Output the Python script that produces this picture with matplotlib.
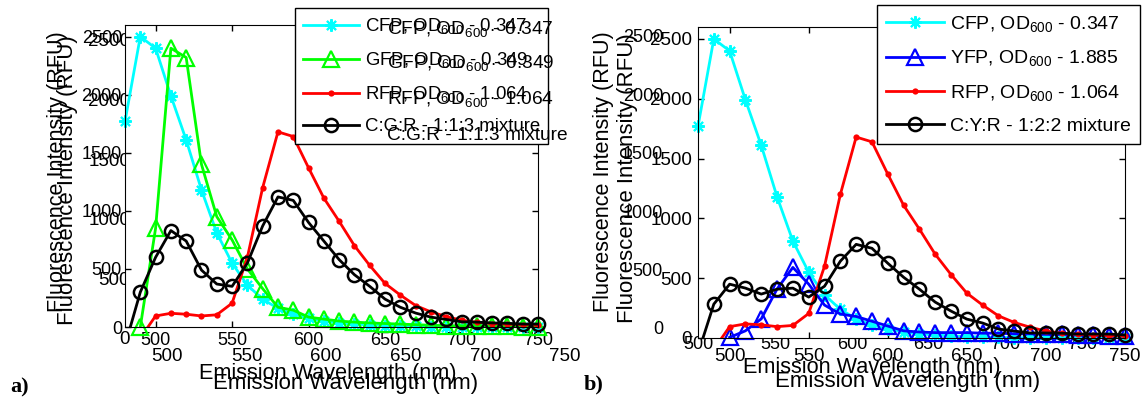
import numpy as np
import matplotlib
matplotlib.use('Agg')
import matplotlib.pyplot as plt
from matplotlib.lines import Line2D

plt.rcParams['font.family'] = ['Liberation Sans', 'DejaVu Sans']
plt.rcParams['mathtext.fontset'] = 'custom'
plt.rcParams['mathtext.rm'] = 'Liberation Sans'
plt.rcParams['mathtext.it'] = 'Liberation Sans:italic'
plt.rcParams['mathtext.bf'] = 'Liberation Sans:bold'

# emission spectra, 480..750 nm every 10 nm
wavelength = np.arange(480, 751, 10)
nan = np.nan
cfp = [1770, 2500, 2400, 1990, 1610, 1180, 810, 550, 360, 240, 160, 110, 75, 50,
       35, 25, 18, 12, 8, 5, 3, 2, 0, 0, 0, 0, 0, 0]
gfp = [nan, 0, 850, 2400, 2320, 1400, 950, 750, 500, 330, 170, 145, 85, 68,
       51, 42, 35, 30, 25, 20, 15, 12, 10, 8, 6, 5, 4, 3]
yfp = [nan, nan, 5, 60, 160, 410, 590, 450, 275, 200, 180, 140, 100, 60,
       50, 45, 45, 45, 40, 40, 35, 35, 30, 30, 25, 25, 20, 20]
rfp = [-100, -95, 95, 118, 110, 95, 105, 205, 600, 1200, 1680, 1640, 1370, 1110,
       910, 700, 530, 375, 275, 185, 130, 90, 58, 40, 30, 25, 20, 15]
mix_a = [-160, 300, 600, 830, 740, 490, 370, 350, 550, 870, 1120, 1090, 900, 740,
         580, 450, 350, 240, 170, 120, 85, 65, 45, 42, 35, 32, 25, 25]
mix_b = [-130, 283, 450, 417, 367, 408, 417, 342, 433, 642, 783, 750, 625, 508,
         408, 300, 225, 158, 125, 75, 58, 42, 42, 40, 33, 33, 33, 25]

labels_a = [r'CFP, OD$_{600}$ - 0.347', r'GFP, OD$_{600}$ - 0.349',
            r'RFP, OD$_{600}$ - 1.064', 'C:G:R - 1:1:3 mixture']
labels_b = [r'CFP, OD$_{600}$ - 0.347', r'YFP, OD$_{600}$ - 1.885',
            r'RFP, OD$_{600}$ - 1.064', 'C:Y:R - 1:2:2 mixture']
xticks = [500, 550, 600, 650, 700, 750]
yticks = [0, 500, 1000, 1500, 2000, 2500]
xlabel = 'Emission Wavelength (nm)'
ylabel = 'Fluorescence Intensity (RFU)'

sty_cfp = dict(color='#00ffff', marker=(8, 2, 0), ms=9, mew=1.5)
sty_gfp = dict(color='#00ff00', marker='^', ms=11, mew=1.6, mfc='none')
sty_yfp = dict(color='#0000ff', marker='^', ms=11, mew=1.6, mfc='none')
sty_rfp = dict(color='#ff0000', marker='o', ms=4.5, mew=0, mfc='#ff0000')
sty_mix = dict(color='black', marker='o', ms=9.5, mew=1.8, mfc='none')

W, H = 1143, 398
fig = plt.figure(figsize=(W / 100, H / 100), dpi=100)


def box(left, top, right, bottom):
    return [left / W, 1 - bottom / H, (right - left) / W, (bottom - top) / H]


def px(x, y):
    return (x / W, 1 - y / H)


def plot_series(ax, series):
    handles = []
    for y, st in series:
        y = np.asarray(y, float)
        ax.plot(wavelength, y, color=st['color'], lw=2)
        # markers are not clipped at the frame, the line is
        ax.plot(wavelength, np.where(y >= 0, y, nan), ls='none', clip_on=False, **st)
        handles.append(Line2D([], [], lw=2, **st))
    return handles


def setup(ax, fs, xpad, ypad, ghost=False):
    ax.set_xlim(480, 750)
    ax.set_ylim(0, 2600)
    ax.set_xticks(xticks)
    ax.set_yticks(yticks)
    if ghost:
        ax.patch.set_visible(False)
        for s in ax.spines.values():
            s.set_visible(False)
        ax.tick_params(length=0, labelsize=fs)
    else:
        ax.tick_params(direction='in', length=4, width=1, top=True, right=True,
                       labelsize=fs)
    ax.tick_params(axis='x', pad=xpad)
    ax.tick_params(axis='y', pad=ypad)


def labels(ax, fs, xc, yc):
    ax.set_xlabel(xlabel, fontsize=fs, va='center')
    ax.set_ylabel(ylabel, fontsize=fs, va='center')
    ax.xaxis.set_label_coords(*px(*xc), transform=fig.transFigure)
    ax.yaxis.set_label_coords(*px(*yc), transform=fig.transFigure)


def legend(ax, handles, labs, corner, fs):
    leg = ax.legend(handles, labs, loc='upper left', bbox_to_anchor=px(*corner),
                    bbox_transform=fig.transFigure, borderaxespad=0, fontsize=fs,
                    handlelength=3.0, handletextpad=0.3, labelspacing=0.75,
                    borderpad=0.45, numpoints=1, fancybox=False, framealpha=1,
                    edgecolor='black')
    leg.get_frame().set_linewidth(1.0)
    return leg


# ---- panel a ----
ga = fig.add_axes(box(135, 28, 565, 338))
setup(ga, 13.5, 7.5, 3.6, ghost=True)
labels(ga, 16, (346, 383), (68, 180))

ax_a = fig.add_axes(box(125, 25, 538, 327))
setup(ax_a, 13, 3.4, 2.2)
labels(ax_a, 15.6, (328, 373), (57, 172))
h_a = plot_series(ax_a, [(cfp, sty_cfp), (gfp, sty_gfp), (rfp, sty_rfp), (mix_a, sty_mix)])
legend(ax_a, h_a, labels_a, (295, 8), 13.4)
for lab, yy in zip(labels_a, [29, 63, 99, 135]):
    fig.text(*px(387, yy), lab, fontsize=13.8, va='center', ha='left', zorder=10)

# ---- panel b ----
gb = fig.add_axes(box(668, 24, 1082, 328))
setup(gb, 13, 6, 3.6, ghost=True)
labels(gb, 15.6, (872, 368), (603, 172))

ax_b = fig.add_axes(box(698, 27, 1125, 338))
setup(ax_b, 13.5, 7.5, 4.3)
labels(ax_b, 16, (908, 382), (628, 178))
h_b = plot_series(ax_b, [(cfp, sty_cfp), (yfp, sty_yfp), (rfp, sty_rfp), (mix_b, sty_mix)])
legend(ax_b, h_b, labels_b, (877, 5), 14)

fig.text(*px(20, 387), 'a)', family='Liberation Serif', weight='bold',
         fontsize=16, ha='center', va='center')
fig.text(*px(594, 384), 'b)', family='Liberation Serif', weight='bold',
         fontsize=16, ha='center', va='center')

fig.savefig('out.png', dpi=100)
